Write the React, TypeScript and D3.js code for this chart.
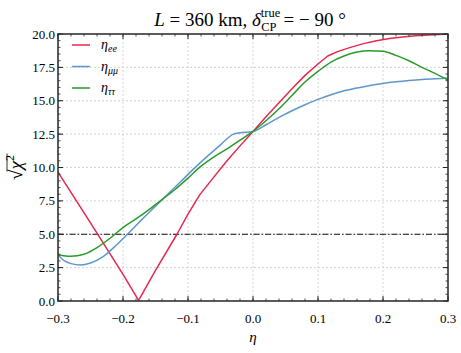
import * as d3 from "d3"

const etaTicks = [-0.3, -0.2, -0.1, 0.0, 0.1, 0.2, 0.3]
const chiTicks = [0, 2.5, 5, 7.5, 10, 12.5, 15, 17.5, 20]

const etaEE = [
  [-0.3, 9.65], [-0.25, 5.85], [-0.2, 2.0], [-0.176, 0.05], [-0.15, 2.3], [-0.117, 5.0],
  [-0.1, 6.5], [-0.082, 7.95], [-0.06, 9.3], [-0.04, 10.5], [-0.02, 11.62], [0, 12.7],
  [0.02, 13.8], [0.04, 14.85], [0.06, 15.9], [0.08, 16.9], [0.1, 17.75], [0.115, 18.35],
  [0.13, 18.68], [0.15, 19.0], [0.17, 19.28], [0.19, 19.5], [0.21, 19.66], [0.23, 19.78],
  [0.25, 19.87], [0.27, 19.93], [0.3, 20.0],
]
const etaMuMu = [
  [-0.3, 3.45], [-0.29, 3.0], [-0.28, 2.8], [-0.265, 2.7], [-0.25, 2.85], [-0.23, 3.35],
  [-0.21, 4.2], [-0.19, 5.15], [-0.17, 6.15], [-0.15, 7.1], [-0.13, 8.05], [-0.11, 9.0],
  [-0.09, 9.95], [-0.07, 10.85], [-0.05, 11.7], [-0.03, 12.5], [-0.02, 12.6], [0, 12.7],
  [0.02, 13.2], [0.04, 13.75], [0.06, 14.25], [0.08, 14.7], [0.1, 15.1], [0.12, 15.45],
  [0.14, 15.75], [0.16, 15.95], [0.18, 16.15], [0.2, 16.3], [0.22, 16.42], [0.24, 16.52],
  [0.26, 16.6], [0.28, 16.65], [0.3, 16.7],
]
const etaTauTau = [
  [-0.3, 3.45], [-0.28, 3.35], [-0.26, 3.5], [-0.24, 4.0], [-0.22, 4.7], [-0.2, 5.5],
  [-0.18, 6.15], [-0.16, 6.85], [-0.14, 7.6], [-0.12, 8.35], [-0.1, 9.2], [-0.08, 10.1],
  [-0.06, 10.8], [-0.04, 11.4], [-0.02, 12.05], [0, 12.7], [0.02, 13.5], [0.04, 14.4],
  [0.06, 15.4], [0.08, 16.4], [0.1, 17.2], [0.12, 17.9], [0.14, 18.35], [0.16, 18.65],
  [0.18, 18.75], [0.2, 18.7], [0.22, 18.4], [0.24, 18.0], [0.26, 17.5], [0.28, 17.05],
  [0.3, 16.55],
]
const threshold = 5.0

const series = [
  { name: "ee", data: etaEE, color: "#e8274d", curve: d3.curveLinear },
  { name: "μμ", data: etaMuMu, color: "#5e97cc", curve: d3.curveMonotoneX },
  { name: "ττ", data: etaTauTau, color: "#2a9a2a", curve: d3.curveMonotoneX },
]

const W = 461
const H = 353
const margin = { left: 58, right: 13, top: 34, bottom: 52 }
const font = "\"Liberation Serif\", \"Times New Roman\", Times, \"DejaVu Serif\", serif"

export default function App() {
  const innerW = W - margin.left - margin.right
  const innerH = H - margin.top - margin.bottom
  const x = d3.scaleLinear().domain([-0.3, 0.3]).range([0, innerW])
  const y = d3.scaleLinear().domain([0, 20]).range([innerH, 0])

  const xMinor = d3.range(-0.3, 0.3001, 0.02)
  const yMinor = d3.range(0, 20.001, 0.5)
  const fmtX = (v: number) => (v < -1e-9 ? "−" : "") + Math.abs(v).toFixed(1)
  const tf = { fontFamily: font }

  return (
    <svg width={W} height={H} style={{ position: "absolute", left: 0, top: 0, fontFamily: font }}>
      <rect width={W} height={H} fill="white" />
      {/* title */}
      <text x={margin.left + innerW / 2 - 3} y={26} textAnchor="middle" fontSize={19} style={tf}>
        <tspan fontStyle="italic">L</tspan>
        <tspan> = 360 km, </tspan>
        <tspan fontStyle="italic">δ</tspan>
        <tspan fontSize={12.5} dy={-9}>true</tspan>
        <tspan fontSize={12.5} dx={-19} dy={14}>CP</tspan>
        <tspan dx={7} dy={-5}>=  − 90 °</tspan>
      </text>
      {/* y label */}
      <g transform={`translate(22,${margin.top + innerH / 2}) rotate(-90)`}>
        <text x={0} y={0} textAnchor="middle" fontSize={19} style={tf}>
          <tspan>√</tspan>
          <tspan fontStyle="italic">χ</tspan>
          <tspan fontSize={12} dy={-8}>2</tspan>
        </text>
        <line x1={-4} x2={14} y1={-15} y2={-15} stroke="black" strokeWidth={0.8} />
      </g>
      <text x={margin.left + innerW / 2} y={342} textAnchor="middle" fontSize={15} fontStyle="italic" style={tf}>η</text>

      <g transform={`translate(${margin.left},${margin.top})`}>
        <defs>
          <clipPath id="plot-clip">
            <rect width={innerW} height={innerH} />
          </clipPath>
        </defs>
        {/* grid */}
        {etaTicks.slice(1, -1).map(t => (
          <line key={"gx" + t} x1={x(t)} x2={x(t)} y1={0} y2={innerH} stroke="#c8c8c8" strokeWidth={0.8} strokeDasharray="2,2" />
        ))}
        {chiTicks.slice(1, -1).map(t => (
          <line key={"gy" + t} x1={0} x2={innerW} y1={y(t)} y2={y(t)} stroke="#c8c8c8" strokeWidth={0.8} strokeDasharray="2,2" />
        ))}
        <line x1={0} x2={innerW} y1={y(threshold)} y2={y(threshold)} stroke="#111" strokeWidth={1.1} strokeDasharray="6,2,1.5,2" />
        <g clipPath="url(#plot-clip)">
          {series.map(s => {
            const line = d3.line<number[]>()
              .x(d => x(d[0]))
              .y(d => y(d[1]))
              .curve(s.curve)
            return <path key={s.name} d={line(s.data) || ""} fill="none" stroke={s.color} strokeWidth={1.5} strokeLinejoin="round" />
          })}
        </g>
        {/* ticks */}
        {xMinor.map((t, i) => (
          <g key={"xm" + i}>
            <line x1={x(t)} x2={x(t)} y1={innerH} y2={innerH - 2.5} stroke="#222" strokeWidth={0.8} />
            <line x1={x(t)} x2={x(t)} y1={0} y2={2.5} stroke="#222" strokeWidth={0.8} />
          </g>
        ))}
        {yMinor.map((t, i) => (
          <g key={"ym" + i}>
            <line x1={0} x2={2.5} y1={y(t)} y2={y(t)} stroke="#222" strokeWidth={0.8} />
            <line x1={innerW} x2={innerW - 2.5} y1={y(t)} y2={y(t)} stroke="#222" strokeWidth={0.8} />
          </g>
        ))}
        {etaTicks.map(t => (
          <g key={"xt" + t}>
            <line x1={x(t)} x2={x(t)} y1={innerH} y2={innerH - 5} stroke="#222" strokeWidth={1} />
            <line x1={x(t)} x2={x(t)} y1={0} y2={5} stroke="#222" strokeWidth={1} />
            <text x={x(t)} y={innerH + 22} textAnchor="middle" fontSize={13} style={tf}>{fmtX(t)}</text>
          </g>
        ))}
        {chiTicks.map(t => (
          <g key={"yt" + t}>
            <line x1={0} x2={5} y1={y(t)} y2={y(t)} stroke="#222" strokeWidth={1} />
            <line x1={innerW} x2={innerW - 5} y1={y(t)} y2={y(t)} stroke="#222" strokeWidth={1} />
            <text x={-3} y={y(t) + 4.5} textAnchor="end" fontSize={13} style={tf}>{t.toFixed(1)}</text>
          </g>
        ))}
        <rect width={innerW} height={innerH} fill="none" stroke="#333" strokeWidth={1.6} />
        {/* legend */}
        {series.map((s, i) => (
          <g key={"lg" + s.name} transform={`translate(14,${11 + i * 21.5})`}>
            <line x1={0} x2={18} y1={0} y2={0} stroke={s.color} strokeWidth={1.5} />
            <text x={29} y={4} fontSize={14} style={tf}>
              <tspan fontStyle="italic">η</tspan>
              <tspan fontSize={10} dy={3} fontStyle="italic">{s.name}</tspan>
            </text>
          </g>
        ))}
      </g>
    </svg>
  )
}
